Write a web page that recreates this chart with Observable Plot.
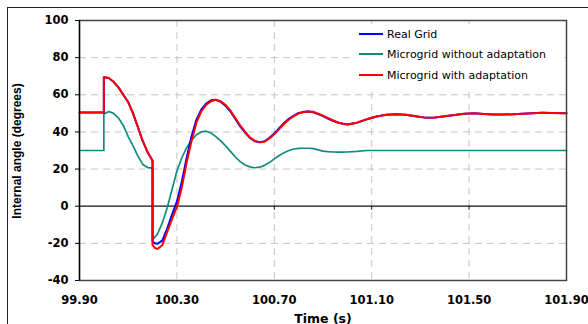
<!DOCTYPE html>
<html>
<head>
<meta charset="utf-8">
<script src="https://cdn.jsdelivr.net/npm/d3@7"></script>
<script src="https://cdn.jsdelivr.net/npm/@observablehq/plot@0.6"></script>
<style>
  html, body { margin: 0; padding: 0; background: #fff; }
  #wrap { position: relative; width: 588px; height: 324px; overflow: hidden; background: #fff; }
  #outer { position: absolute; left: 7px; top: 7px; width: 600px; height: 400px; border-top: 1px solid #222; border-left: 1px solid #222; }
  #chart { position: absolute; left: 0; top: 0; }
  .ytitle { position: absolute; left: 17px; top: 151px; transform: translate(-50%, -50%) rotate(-90deg);
            font: bold 12px "Liberation Sans", Arial, sans-serif; white-space: nowrap; color: #000; }
  .xtitle { position: absolute; left: 323px; top: 318px; transform: translate(-50%, -50%);
            font: bold 12.5px "DejaVu Sans", sans-serif; white-space: nowrap; color: #000; }
  #legend { position: absolute; left: 352px; top: 24px; width: 212px; height: 64px; background: #fff; }
  .item { position: absolute; left: 7px; height: 14px; display: flex; align-items: center;
          font: 11px "DejaVu Sans", sans-serif; color: #000; white-space: nowrap; }
  .sw { width: 24px; height: 2px; margin-right: 4px; }
</style>
</head>
<body>
<div id="wrap">
  <div id="outer"></div>
  <div id="chart"></div>
  <div class="ytitle">Internal angle (degrees)</div>
  <div class="xtitle">Time (s)</div>
  <div id="legend"></div>
</div>
<script>
// ---- data ----
const time = [99.90, 100.00, 100.00, 100.02, 100.04, 100.06, 100.08, 100.10, 100.12, 100.14,
  100.16, 100.18, 100.20, 100.20, 100.21, 100.22, 100.24, 100.26, 100.28, 100.30,
  100.32, 100.34, 100.36, 100.38, 100.40, 100.42, 100.44, 100.46, 100.48, 100.50,
  100.52, 100.54, 100.56, 100.58, 100.60, 100.62, 100.64, 100.66, 100.68, 100.70,
  100.72, 100.74, 100.76, 100.78, 100.80, 100.82, 100.84, 100.86, 100.88, 100.90,
  100.92, 100.94, 100.96, 100.98, 101.00, 101.04, 101.08, 101.12, 101.16, 101.20,
  101.24, 101.28, 101.32, 101.36, 101.40, 101.44, 101.48, 101.52, 101.56, 101.60,
  101.64, 101.68, 101.72, 101.76, 101.80, 101.84, 101.90];

const realGrid = [50.5, 50.5, 69.5, 69.0, 67.0, 64.0, 60.0, 56.0, 50.0, 42.5,
  35.0, 29.0, 24.5, -19.0, -20.0, -20.2, -18.5, -12.0, -4.5, 2.5,
  13.0, 26.0, 37.5, 46.5, 52.0, 55.3, 57.0, 57.3, 56.2, 54.0,
  51.0, 47.0, 43.0, 39.6, 36.8, 35.0, 34.5, 35.0, 36.9, 39.2,
  42.0, 44.8, 47.1, 48.8, 50.2, 50.8, 51.0, 50.6, 49.6, 48.5,
  47.2, 46.0, 45.0, 44.4, 44.0, 45.0, 46.8, 48.3, 49.3, 49.5,
  49.2, 48.4, 47.7, 47.8, 48.4, 49.1, 49.8, 50.0, 49.6, 49.4,
  49.4, 49.5, 49.8, 50.1, 50.3, 50.2, 50.1];

const microNoAdapt = [30.0, 30.0, 49.5, 51.0, 50.0, 47.5, 43.5, 37.5, 32.5, 27.0,
  22.5, 20.8, 20.5, -18.0, -16.5, -15.0, -9.0, -1.0, 9.0, 19.0,
  26.0, 31.5, 35.5, 38.5, 40.0, 40.4, 39.5, 37.5, 35.2, 32.5,
  29.5, 26.5, 24.0, 22.2, 21.2, 20.7, 21.0, 22.0, 23.5, 25.5,
  27.3, 28.8, 30.0, 30.8, 31.1, 31.2, 31.2, 31.0, 30.3, 29.7,
  29.4, 29.2, 29.1, 29.1, 29.2, 29.5, 30.0, 30.0, 30.0, 30.0,
  30.0, 30.0, 30.0, 30.0, 30.0, 30.0, 30.0, 30.0, 30.0, 30.0,
  30.0, 30.0, 30.0, 30.0, 30.0, 30.0, 30.0];

const microAdapt = [50.5, 50.5, 69.5, 69.0, 67.0, 64.0, 60.0, 56.0, 50.0, 42.5,
  35.0, 29.0, 24.5, -21.0, -22.5, -23.0, -21.0, -14.0, -7.0, -0.5,
  10.0, 23.5, 35.0, 45.0, 51.0, 54.5, 56.5, 57.3, 56.5, 54.5,
  51.5, 47.5, 43.5, 40.0, 37.0, 35.2, 34.5, 34.7, 36.5, 38.7,
  41.5, 44.3, 46.7, 48.5, 50.0, 50.6, 51.0, 50.8, 49.8, 48.8,
  47.5, 46.3, 45.2, 44.5, 44.0, 45.0, 46.8, 48.3, 49.3, 49.5,
  49.2, 48.4, 47.7, 47.8, 48.4, 49.1, 49.8, 50.0, 49.6, 49.4,
  49.4, 49.5, 49.8, 50.1, 50.3, 50.2, 50.1];

const seriesNames = ["Real Grid", "Microgrid without adaptation", "Microgrid with adaptation"];
const seriesColors = ["#0000ff", "#128a82", "#ff0000"];
const xTicks = [99.90, 100.30, 100.70, 101.10, 101.50, 101.90];
const yTicks = [-40, -20, 0, 20, 40, 60, 80, 100];

// ---- build ----
const seriesValues = [realGrid, microNoAdapt, microAdapt];
const rows = seriesNames.map((name, k) => time.map((t, i) => ({t, v: seriesValues[k][i], s: name})));

const font = "DejaVu Sans";
const chart = Plot.plot({
  width: 588,
  height: 324,
  marginLeft: 79,
  marginRight: 22,
  marginTop: 20,
  marginBottom: 44,
  x: {domain: [xTicks[0], xTicks[xTicks.length - 1]]},
  y: {domain: [yTicks[0], yTicks[yTicks.length - 1]]},
  style: {background: "transparent", color: "#000", overflow: "visible", fontFamily: font},
  marks: [
    Plot.gridX(xTicks, {stroke: "#c4c4c4", strokeOpacity: 1, strokeWidth: 1, strokeDasharray: "7,5"}),
    Plot.gridY(yTicks.filter(d => d !== 0), {stroke: "#c4c4c4", strokeOpacity: 1, strokeWidth: 1, strokeDasharray: "7,5"}),
    Plot.ruleY([0], {stroke: "#111", strokeWidth: 1.2}),
    Plot.ruleX(xTicks, {x: d => d, y1: 0, y2: 0, insetBottom: -4, stroke: "#111", strokeWidth: 1}),
    Plot.line(rows[1], {x: "t", y: "v", stroke: seriesColors[1], strokeWidth: 1.7}),
    Plot.line(rows[0], {x: "t", y: "v", stroke: seriesColors[0], strokeWidth: 2}),
    Plot.line(rows[2], {x: "t", y: "v", stroke: seriesColors[2], strokeWidth: 2}),
    Plot.frame({stroke: "#444", strokeWidth: 1.5}),
    Plot.ruleX([xTicks[0]], {stroke: "#000", strokeWidth: 1.3}),
    Plot.axisY(yTicks, {tickSize: 4, tickPadding: 7, tickFormat: d => String(d), label: null,
      fontWeight: "bold", fontSize: 11.5, fontFamily: font, stroke: "#000"}),
    Plot.axisX(xTicks, {tickSize: 0, tickPadding: 15, tickFormat: d => d.toFixed(2), label: null,
      fontWeight: "bold", fontSize: 11.5, fontFamily: font})
  ]
});
document.getElementById("chart").appendChild(chart);

// legend
const legend = document.getElementById("legend");
const rowTops = [3, 23, 44];
seriesNames.forEach((name, k) => {
  const it = document.createElement("div");
  it.className = "item";
  it.style.top = rowTops[k] + "px";
  const sw = document.createElement("span");
  sw.className = "sw";
  sw.style.background = seriesColors[k];
  const tx = document.createElement("span");
  tx.textContent = name;
  it.appendChild(sw);
  it.appendChild(tx);
  legend.appendChild(it);
});
</script>
</body>
</html>
